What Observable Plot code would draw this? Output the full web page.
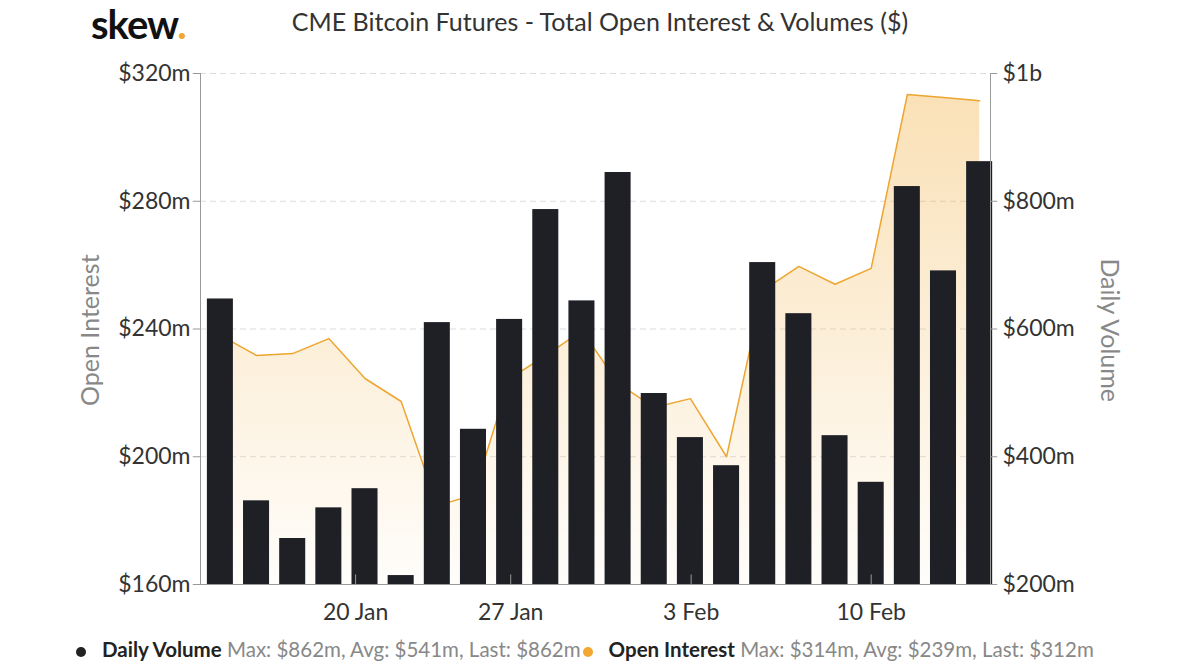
<!DOCTYPE html>
<html><head><meta charset="utf-8">
<script src="https://cdn.jsdelivr.net/npm/d3@7"></script>
<script src="https://cdn.jsdelivr.net/npm/@observablehq/plot@0.6"></script>
<style>
body{margin:0;background:#fff;font-family:Lato,"Open Sans",sans-serif;}
#wrap{position:relative;width:1200px;height:670px;}
#logo{position:absolute;left:91px;top:4px;font-size:40px;line-height:40px;font-weight:bold;color:#111;letter-spacing:-1px}
#logo span{color:#f0a830}
#title{position:absolute;left:0;width:1200px;top:6px;text-align:center;font-size:25px;color:#333}
#chart{position:absolute;left:0;top:45px}
#legend{position:absolute;left:76px;top:637px;font-size:20.5px;color:#222;white-space:nowrap}
#legend b{font-weight:bold}
#legend .s{color:#888}
.dot{display:inline-block;width:10px;height:10px;border-radius:50%;margin-right:16px;vertical-align:middle}
</style></head><body>
<div id="wrap">
<div id="logo">skew<span>.</span></div>
<div id="title">CME Bitcoin Futures - Total Open Interest &amp; Volumes ($)</div>
<div id="chart"></div>
<div id="legend"><span class="dot" style="background:#222"></span><b>Daily Volume</b> <span class="s">Max: $862m, Avg: $541m, Last: $862m</span><span class="dot" style="background:#f0a830;margin-left:2px"></span><b>Open Interest</b> <span class="s">Max: $314m, Avg: $239m, Last: $312m</span></div>
</div>
<script>
const dayIndex = d3.range(22);
const volume = [647,331,272,320,350,214,610,443,615,787,644,845,499,430,386,704,624,433,360,823,691,862];
const openInterest = [238,231.7,232.3,237,224.5,217.3,184.7,188,224.5,231.7,239.5,223,215.4,218.2,200,252,259.6,254,259,313.4,312.5,311.5];
const xTickPos = [3.74,8.03,13.02,18.0];
const xTickLabels = ["20 Jan","27 Jan","3 Feb","10 Feb"];
const oiTicks = [160,200,240,280,320];
const volTicks = [200,400,600,800,1000];

const toV = oi => 200 + (oi-160)*5;
const data = dayIndex.map(i => ({i, vol: volume[i], oi: toV(openInterest[i])}));
const W=1200,H=590, mL=200, mR=210, mT=28, mB=51;
const x0=-0.55, x1=21.3;
const tk = 0.2;

const plot = Plot.plot({
  width:W, height:H, marginLeft:mL, marginRight:mR, marginTop:mT, marginBottom:mB,
  style:{fontFamily:"Lato, sans-serif", fontSize:"23px", color:"#333", overflow:"visible"},
  x:{type:"linear", domain:[x0,x1], axis:null},
  y:{type:"linear", domain:[200,1000], axis:null},
  marks:[
    () => {
      const ns="http://www.w3.org/2000/svg";
      const defs=document.createElementNS(ns,"defs");
      defs.innerHTML='<linearGradient id="g" x1="0" y1="0" x2="0" y2="1"><stop offset="0" stop-color="#f0a830" stop-opacity="0.35"/><stop offset="1" stop-color="#f0a830" stop-opacity="0.02"/></linearGradient>';
      return defs;
    },
    Plot.ruleY(volTicks.slice(1), {y:d=>d, x1:x0, x2:x1, stroke:"#ddd", strokeDasharray:"6,4"}),
    Plot.areaY(data, {x:"i", y1:200, y2:"oi", fill:"url(#g)"}),
    Plot.lineY(data, {x:"i", y:"oi", stroke:"#eda631", strokeWidth:1.5}),
    Plot.rectY(data, {x1:d=>d.i-0.36, x2:d=>d.i+0.36, y1:200, y2:"vol", fill:"#1f2026"}),
    Plot.ruleX([x0, x1], {x:d=>d, y1:200, y2:1000, stroke:"#999"}),
    Plot.ruleY([200], {y:d=>d, x1:x0, x2:x1, stroke:"#999"}),
    Plot.ruleY(volTicks, {y:d=>d, x1:x0-tk, x2:x0, stroke:"#999"}),
    Plot.ruleY(volTicks, {y:d=>d, x1:x1, x2:x1+tk, stroke:"#999"}),
    Plot.text(oiTicks, {x:x0, y:toV, text:d=>"$"+d+"m", textAnchor:"end", dx:-10, fill:"#333"}),
    Plot.text(volTicks, {x:x1, y:d=>d, text:d=>d===1000?"$1b":"$"+d+"m", textAnchor:"start", dx:12, fill:"#333"}),
    Plot.ruleX(xTickPos, {x:d=>d, y1:200, y2:215, stroke:"#999"}),
    Plot.text(xTickPos, {x:d=>d, y:200, text:(d,i)=>xTickLabels[i], dy:28, fill:"#333"}),
    Plot.text(["Open Interest"], {frameAnchor:"left", dx:-110, dy:77, rotate:-90, fill:"#888", fontSize:25}),
    Plot.text(["Daily Volume"], {frameAnchor:"right", dx:118, dy:73, rotate:90, fill:"#888", fontSize:25})
  ]
});
document.getElementById("chart").appendChild(plot);
</script>
</body></html>
